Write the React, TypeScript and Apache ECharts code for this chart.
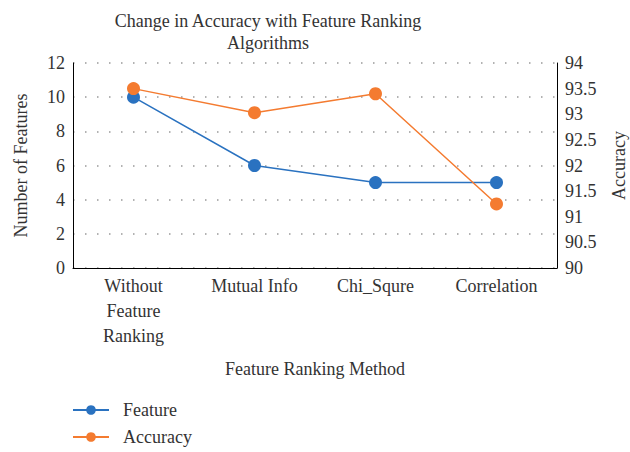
import React, { useEffect, useRef } from "react";
import * as echarts from "echarts";

const categories = ["Without\nFeature\nRanking", "Mutual Info", "Chi_Squre", "Correlation"];
const featureValues = [10, 6, 5, 5];
const accuracyValues = [93.5, 93.03, 93.4, 91.25];

const FONT = "Liberation Serif";
const TEXT = "#333";
const FS = 18;

export default function App() {
  const ref = useRef<HTMLDivElement>(null);
  useEffect(() => {
    if (!ref.current) return;
    const chart = echarts.init(ref.current, null, { renderer: "svg", width: 630, height: 452 });
    chart.setOption({
      animation: false,
      textStyle: { fontFamily: FONT },
      title: {
        text: "Change in Accuracy with Feature Ranking\nAlgorithms",
        left: 263,
        textAlign: "center",
        top: 5,
        textStyle: { fontFamily: FONT, fontSize: FS, fontWeight: "normal", color: TEXT, lineHeight: 22 },
      },
      grid: { left: 73, right: 73, top: 63, bottom: 184, outerBoundsMode: "none", containLabel: false },
      legend: {
        orient: "vertical",
        left: 72,
        top: 400,
        padding: 0,
        itemGap: 7,
        itemWidth: 36,
        itemHeight: 12,
        textStyle: { fontFamily: FONT, fontSize: FS, color: TEXT, lineHeight: 20, padding: [0, 0, 0, 9] },
        data: ["Feature", "Accuracy"],
      },
      xAxis: {
        type: "category",
        data: categories,
        boundaryGap: true,
        name: "Feature Ranking Method",
        nameLocation: "middle",
        nameGap: 92,
        nameTextStyle: { fontFamily: FONT, fontSize: FS, color: TEXT },
        axisLine: { lineStyle: { color: "#000", width: 1 } },
        axisTick: { show: false },
        axisLabel: { fontFamily: FONT, fontSize: FS, color: TEXT, lineHeight: 25, margin: 5, interval: 0 },
      },
      yAxis: [
        {
          type: "value",
          min: 0,
          max: 12,
          interval: 2,
          name: "Number of Features",
          nameLocation: "middle",
          nameGap: 43,
          nameRotate: 90,
          nameTextStyle: { fontFamily: FONT, fontSize: FS, color: TEXT },
          axisLine: { show: true, lineStyle: { color: "#000", width: 1 } },
          axisTick: { show: false },
          axisLabel: { fontFamily: FONT, fontSize: FS, color: TEXT, margin: 8 },
          splitLine: { show: true, lineStyle: { color: "#999", type: [1.5, 10.5], width: 1.5 } },
        },
        {
          type: "value",
          min: 90,
          max: 94,
          interval: 0.5,
          name: "Accuracy",
          nameLocation: "middle",
          nameGap: 53,
          nameRotate: 90,
          nameTextStyle: { fontFamily: FONT, fontSize: FS, color: TEXT },
          axisLine: { show: true, lineStyle: { color: "#000", width: 1 } },
          axisTick: { show: false },
          axisLabel: { fontFamily: FONT, fontSize: FS, color: TEXT, margin: 8 },
          splitLine: { show: false },
        },
      ],
      series: [
        {
          name: "Feature",
          type: "line",
          yAxisIndex: 0,
          data: featureValues,
          symbol: "circle",
          symbolSize: 13,
          itemStyle: { color: "#2a72c0" },
          lineStyle: { color: "#2a72c0", width: 1.5 },
        },
        {
          name: "Accuracy",
          type: "line",
          yAxisIndex: 1,
          data: accuracyValues,
          symbol: "circle",
          symbolSize: 13,
          itemStyle: { color: "#f47b30" },
          lineStyle: { color: "#f47b30", width: 1.5 },
        },
      ],
    });
    return () => chart.dispose();
  }, []);
  return (
    <div
      ref={ref}
      style={{ position: "fixed", left: 0, top: 0, width: 630, height: 452, background: "#fff" }}
    />
  );
}
